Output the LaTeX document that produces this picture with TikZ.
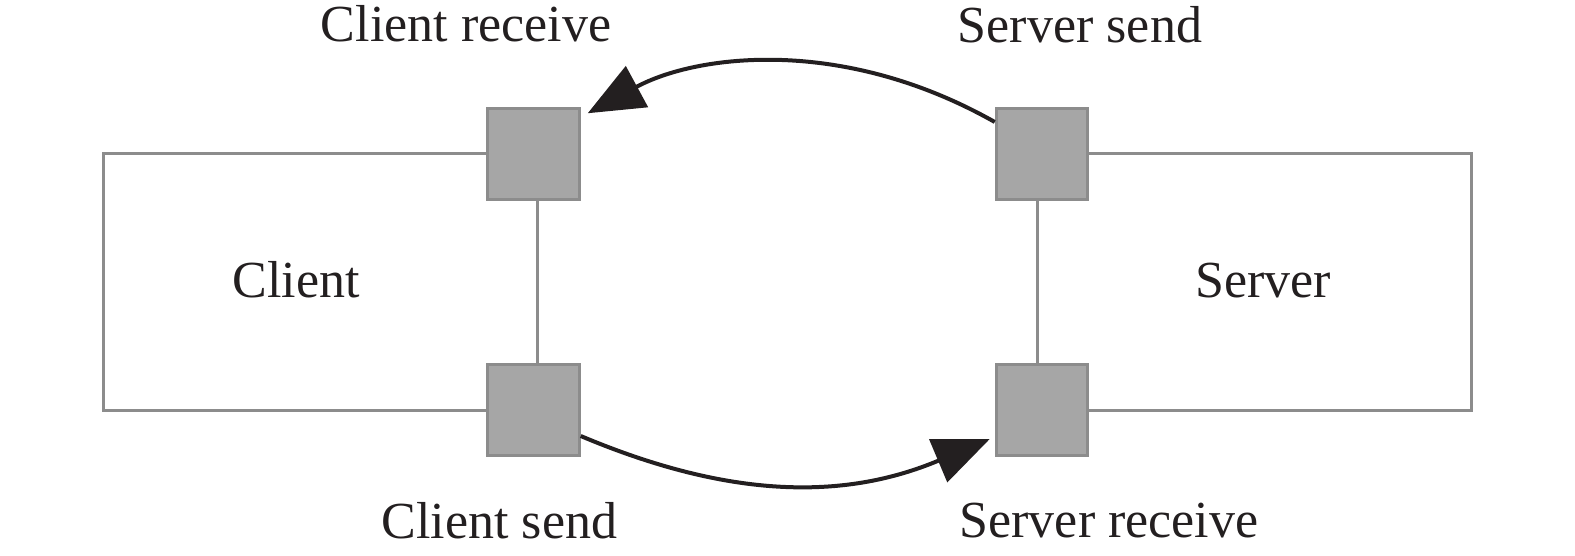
\documentclass[tikz,border=0pt]{standalone}
\usepackage{fontspec}
\setmainfont{Liberation Serif}
\usetikzlibrary{positioning}
\usetikzlibrary{arrows.meta}
\definecolor{portfill}{HTML}{A6A6A6}
\definecolor{portdraw}{HTML}{8C8C8C}
\definecolor{inkblack}{HTML}{231F20}
\tikzset{
    port/.style = {rectangle, draw=portdraw, line width=1.5pt, fill=portfill, minimum size=45.75pt, inner sep=0pt},
    edgeg/.style = {draw=portdraw, line width=1.5pt},
    edgea/.style = {-{Triangle[length=28pt,width=23pt]}, line width=2pt, inkblack},
    mytext/.style = {anchor=base, inner sep=0pt, font=\fontsize{26pt}{30pt}\selectfont, text=inkblack}
}
\begin{document}
\begin{tikzpicture}[x=0.5pt,y=-0.5pt]
\useasboundingbox (0,0) rectangle (1575,556);
%
\node[port] at (533.5,154) (cr) {};
\node[port] at (533.5,410) (cs) {};
\node[port] at (1042,154) (ss) {};
\node[port] at (1042,410) (sr) {};
\coordinate (cl) at (103.5,154);
\coordinate (sv) at (1471.5,154);
%
\draw[edgeg] (cr.west) -- (cr.west -| cl) -- (cs.west -| cl) -- (cs.west);
\draw[edgeg] ([xshift=1.75pt]cr.south) -- ([xshift=1.75pt]cs.north);
\draw[edgeg] (ss.east) -- (ss.east -| sv) -- (sr.east -| sv) -- (sr.east);
\draw[edgeg] ([xshift=-2.5pt]ss.south) -- ([xshift=-2.5pt]sr.north);
%
\node[mytext] at (466,42) (crl) {Client receive};
\node[mytext] at (1080,43) (ssl) {Server send};
\node[mytext] at (296,297) (cll) {Client};
\node[mytext] at (1263,297) (svl) {Server};
\node[mytext] at (499.5,538) (csl) {Client send};
\node[mytext] at (1109,537) (srl) {Server receive};
%
\draw[edgea] ([yshift=16pt]ss.west) .. controls +(-152,-86) and +(109,-59) .. ([shift={(3.5pt,-3.25pt)}]cr.north east);
\draw[edgea] ([yshift=-13pt]cs.east) .. controls +(147,62) and +(-147,62) .. ([shift={(-2.5pt,-14.5pt)}]sr.west);

\end{tikzpicture}
\end{document}
